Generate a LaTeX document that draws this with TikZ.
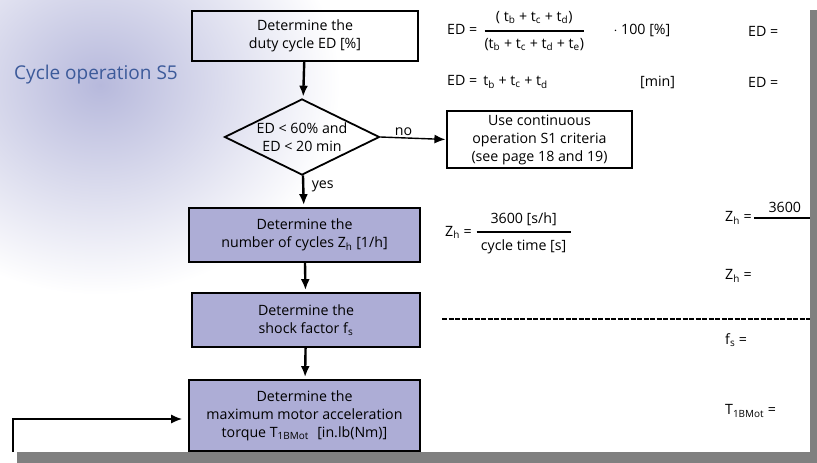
\documentclass[tikz,border=0pt]{standalone}
\usepackage{amsmath}
\usepackage{fontspec}
\setmainfont{Open Sans}
\usetikzlibrary{arrows.meta,positioning,shapes.geometric}
\definecolor{boxfill}{HTML}{ADADD6}
\definecolor{titleblue}{HTML}{3C5A9A}
\definecolor{glow}{HTML}{B7B9DC}
\definecolor{shadowgray}{HTML}{808080}

\begin{document}
\begin{tikzpicture}[x=1pt,y=-1pt,font=\fontsize{14.2}{18}\selectfont,>={Latex[length=11pt,width=9pt]},
  stepbox/.style={draw,line width=1.8pt,minimum width=228pt,minimum height=54pt,align=center,inner sep=2pt},
  shadedbox/.style={stepbox,fill=boxfill},
  decision/.style={diamond,draw,line width=1.8pt,minimum width=155pt,minimum height=76pt,inner sep=0pt},
  flow/.style={->,line width=2.4pt,shorten >=2pt},
  formula/.style={anchor=west,inner sep=0pt}]
\useasboundingbox (0,0) rectangle (817,463);
% page with its shadow
\fill[shadowgray] (17,10) rectangle (817,463);
\fill[white] (0,0) rectangle (810,452);
\begin{scope}
\clip (0,0) rectangle (810,452);
\shade[inner color=glow,outer color=white] (100,85) ellipse (240 and 210);
\end{scope}
\node[titleblue,anchor=west,inner sep=0pt,font=\fontsize{19}{22}\selectfont] (title) at (14,75) {Cycle operation S5};

% flow chart
\node[stepbox,minimum width=226pt,minimum height=50pt] (duty) at (305,36) {Determine the\\duty cycle ED [\%]};
\node[decision] (check) at (302,137) {};
\node[align=center,inner sep=0pt] (checktext) at (check) {ED < 60\% and\\ED < 20 min};
\node[stepbox,line width=1.2pt,minimum width=185pt,minimum height=57pt,inner sep=0pt] (contop) at (539.5,139.5) {Use continuous\\operation S1 criteria\\(see page 18 and 19)};
\node[shadedbox,minimum width=231pt] (cycles) at (304.5,235) {Determine the\\number of cycles Z\textsubscript{h} [1/h]};
\node[shadedbox] (shock) at (306,320) {Determine the\\shock factor f\textsubscript{s}};
\node[shadedbox,minimum width=231pt,minimum height=71pt] (torque) at (304.5,415.5) {Determine the\\maximum motor acceleration\\torque T\textsubscript{1BMot}\,\, [in.lb(Nm)]};
\coordinate (loopstart) at (13,452);

\draw[flow] (duty) -- (check);
\draw[flow] (check) -- node[right=4pt,pos=.35]{yes} (cycles);
\draw[flow] (cycles) -- (shock);
\draw[flow] (shock) -- (torque);
\draw[->,line width=1.4pt,shorten >=1pt] (check.east) -- node[above=-2pt,pos=.35]{no} (contop.west);
\draw[->,line width=1.4pt,shorten >=6pt] (loopstart) |- ([yshift=-3.5pt]torque.west);

% formulas
\node[formula] (edfrac) at (447,31) {ED =\, $\genfrac{}{}{2pt}{0}{\text{( t\textsubscript{b} + t\textsubscript{c} + t\textsubscript{d})}}{\text{(t\textsubscript{b} + t\textsubscript{c} + t\textsubscript{d} + t\textsubscript{e})}}$\qquad$\cdot$ 100 [\%]};
\node[formula] (edsum) at (447,82) {ED =\, t\textsubscript{b} + t\textsubscript{c} + t\textsubscript{d}};
\node[formula] (edunit) at (640,82) {[min]};
\node[formula] (zhfrac) at (445,233) {Z\textsubscript{h} = $\genfrac{}{}{2pt}{0}{\text{3600 [s/h]}}{\text{\hspace{0.3em}cycle time [s]\hspace{0.3em}}}$};
\foreach \n/\x/\y/\t in {edA/748/31/{ED =},edB/748/82/{ED =},zhA/725/218/{Z\textsubscript{h} =},zhB/725/276/{Z\textsubscript{h} =},fsA/725/340/{f\textsubscript{s} =},tmA/725/411/{T\textsubscript{1BMot} =}}
  \node[formula] (\n) at (\x,\y) {\t};
\coordinate (pageedge) at (810,0);
\draw[line width=1.8pt] ([xshift=2pt]zhA.east) -- node[above=1pt,pos=.55]{3600} (zhA.east -| pageedge);
\coordinate (dashstart) at (442,319);
\draw[line width=1.8pt,dash pattern=on 5pt off 1.5pt] (dashstart) -- (dashstart -| pageedge);
\end{tikzpicture}
\end{document}
